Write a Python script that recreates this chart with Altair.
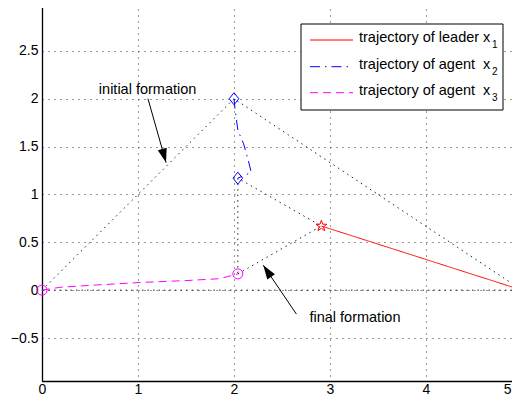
import math
import altair as alt
import pandas as pd

# ---------------- data ----------------
leader_x = [5.0, 2.91]
leader_y = [0.0, 0.67]
agent2_x = [2.0, 2.01, 2.04, 2.10, 2.15, 2.18, 2.04]
agent2_y = [2.0, 1.90, 1.67, 1.53, 1.35, 1.23, 1.17]
agent3_x = [0.0, 0.19, 0.50, 1.02, 1.50, 1.85, 2.04]
agent3_y = [0.0, 0.03, 0.05, 0.08, 0.10, 0.12, 0.17]

init_x = [0.0, 2.0, 5.0, 0.0]
init_y = [0.0, 2.0, 0.0, 0.0]
final_x = [2.04, 2.91, 2.04, 2.04]
final_y = [0.17, 0.67, 1.17, 0.17]

star_x = [2.91, 5.0]
star_y = [0.67, 0.0]
diamond_x = [2.0, 2.04]
diamond_y = [2.0, 1.17]
circle_x = [0.0, 2.04]
circle_y = [0.0, 0.17]

ann_text = ["initial formation", "final formation"]
ann_tx = [1.10, 3.26]
ann_ty = [2.09, -0.29]
arrow_x = [1.104, 2.65]
arrow_y = [2.00, -0.25]
arrow_x2 = [1.292, 2.305]
arrow_y2 = [1.333, 0.26]

x_ticks = [0, 1, 2, 3, 4, 5]
y_ticks = [-0.5, 0, 0.5, 1, 1.5, 2, 2.5]
x_domain = [0, 5]
y_domain = [-0.949, 3]

series_names = ["leader", "agent2", "agent3"]
legend_labels = ["trajectory of leader x", "trajectory of agent\u00a0 x", "trajectory of agent\u00a0 x"]
legend_subs = ["1", "2", "3"]

# ---------------- styles ----------------
SERIES_COLORS = ["#ff0000", "#0000ff", "#ff00ff"]
SERIES_DASHES = [[1, 0], [10, 5, 1.5, 5], [8, 5]]
FONT = "Liberation Sans"

# pentagram symbol path (shape only)
_pts = []
for k in range(10):
    r = 1.0 if k % 2 == 0 else 0.4
    a = math.radians(-90 + 36 * k)
    _pts.append(f"{r * math.cos(a):.3f},{r * math.sin(a):.3f}")
STAR_PATH = "M" + "L".join(_pts) + "Z"
DIAMOND_PATH = "M-0.8,0L0,-1L0.8,0L0,1Z"
HEAD_PATH = "M0,0L-0.33,1L0.33,1Z"

traj_rows = []
for name, xs_, ys_ in [("leader", leader_x, leader_y), ("agent2", agent2_x, agent2_y), ("agent3", agent3_x, agent3_y)]:
    for i, (a, b) in enumerate(zip(xs_, ys_)):
        traj_rows.append({"series": name, "order": i, "x": a, "y": b})
traj_df = pd.DataFrame(traj_rows)

form_rows = []
for name, xs_, ys_ in [("initial", init_x, init_y), ("final", final_x, final_y)]:
    for i, (a, b) in enumerate(zip(xs_, ys_)):
        form_rows.append({"group": name, "order": i, "x": a, "y": b})
form_df = pd.DataFrame(form_rows)

arrow_df = pd.DataFrame({"x": arrow_x, "y": arrow_y, "x2": arrow_x2, "y2": arrow_y2})
arrow_df["angle"] = [
    (math.degrees(math.atan2(ex - sx, ey - sy)) + 360) % 360
    for sx, ex, sy, ey in zip(arrow_x, arrow_x2, arrow_y, arrow_y2)
]
ann_df = pd.DataFrame({"x": ann_tx, "y": ann_ty, "text": ann_text})

xs = alt.Scale(domain=x_domain, nice=False, zero=False)
ys = alt.Scale(domain=y_domain, nice=False, zero=False)

last_x = x_ticks[-1]
x_axis = alt.Axis(
    values=x_ticks, grid=True, ticks=False, tickSize=0, title=None, format="~g",
    labelFlush=False, labelOverlap=False, labelPadding=1,
    labelAlign={"condition": {"test": f"datum.value == {last_x}", "value": "right"}, "value": "center"},
    labelOffset={"condition": {"test": f"datum.value == {last_x}", "value": -11}, "value": 0},
)
y_axis = alt.Axis(values=y_ticks, grid=True, ticks=False, tickSize=0, title=None, format="~g",
                  labelFlush=False, labelOverlap=False, labelPadding=4)


def X(f="x"):
    return alt.X(f"{f}:Q", scale=xs, axis=x_axis)


def Y(f="y"):
    return alt.Y(f"{f}:Q", scale=ys, axis=y_axis)


formation = alt.Chart(form_df).mark_line(color="#222222", strokeDash=[1.5, 4], strokeWidth=1).encode(
    x=X(), y=Y(), detail="group:N", order="order:Q")

traj = alt.Chart(traj_df).mark_line(strokeWidth=1).encode(
    x=X(), y=Y(),
    color=alt.Color("series:N", scale=alt.Scale(domain=series_names, range=SERIES_COLORS), legend=None),
    strokeDash=alt.StrokeDash("series:N", scale=alt.Scale(domain=series_names, range=SERIES_DASHES), legend=None),
    detail="series:N",
    order="order:Q")

stars = alt.Chart(pd.DataFrame({"x": star_x, "y": star_y})).mark_point(
    shape=STAR_PATH, size=130, color="#ff0000", filled=False, strokeWidth=1, opacity=1).encode(x=X(), y=Y())
diamonds = alt.Chart(pd.DataFrame({"x": diamond_x, "y": diamond_y})).mark_point(
    shape=DIAMOND_PATH, size=144, color="#0000ff", filled=False, strokeWidth=1, opacity=1).encode(x=X(), y=Y())
circles = alt.Chart(pd.DataFrame({"x": circle_x, "y": circle_y})).mark_point(
    shape="circle", size=100, color="#ff00ff", filled=False, strokeWidth=1, opacity=1).encode(x=X(), y=Y())

shafts = alt.Chart(arrow_df).mark_rule(color="black", strokeWidth=1).encode(
    x=X(), y=Y(), x2="x2:Q", y2="y2:Q")
heads = alt.Chart(arrow_df).mark_point(
    shape=HEAD_PATH, size=784, filled=True, color="black", opacity=1, strokeWidth=0).encode(
    x=alt.X("x2:Q", scale=xs, axis=x_axis), y=alt.Y("y2:Q", scale=ys, axis=y_axis),
    angle=alt.Angle("angle:Q", scale=None))

ann = alt.Chart(ann_df).mark_text(font=FONT, fontSize=14.5, color="black").encode(
    x=X(), y=Y(), text="text:N")

# ---------------- legend (drawn by hand, pixel layout) ----------------
one = pd.DataFrame({"k": [0]})
legend_layers = [
    alt.Chart(one).mark_rect(fill="white", stroke="black", strokeWidth=1).encode(
        x=alt.value(259), x2=alt.value(461), y=alt.value(21), y2=alt.value(107))
]
row_y = [37, 63.7, 89.7]
for lab, sub, col, dash, ry in zip(legend_labels, legend_subs, SERIES_COLORS, SERIES_DASHES, row_y):
    legend_layers.append(
        alt.Chart(one).mark_rule(color=col, strokeDash=dash, strokeWidth=1).encode(
            x=alt.value(268), x2=alt.value(311), y=alt.value(ry)))
    legend_layers.append(
        alt.Chart(pd.DataFrame({"t": [lab]})).mark_text(
            font=FONT, fontSize=14.5, align="left", baseline="middle", color="black").encode(
            x=alt.value(317), y=alt.value(ry - 2), text="t:N"))
    legend_layers.append(
        alt.Chart(pd.DataFrame({"t": [sub]})).mark_text(
            font=FONT, fontSize=10, align="left", baseline="middle", color="black").encode(
            x=alt.value(450), y=alt.value(ry + 5), text="t:N"))

chart = alt.layer(formation, traj, stars, diamonds, circles, shafts, heads, ann, *legend_layers).properties(
    width=480, height=378,
    padding={"left": 34, "top": -5, "right": -10, "bottom": 17},
    autosize=alt.AutoSizeParams(type="none"),
).configure_view(stroke="black", strokeWidth=1).configure_axis(
    labelFont=FONT, labelFontSize=14, labelColor="black",
    domainColor="black", domainWidth=1.3,
    gridColor="#333333", gridDash=[1, 5], gridWidth=1, gridOpacity=1,
)

chart.save("out.html", embed_options={"renderer": "svg", "actions": False})
